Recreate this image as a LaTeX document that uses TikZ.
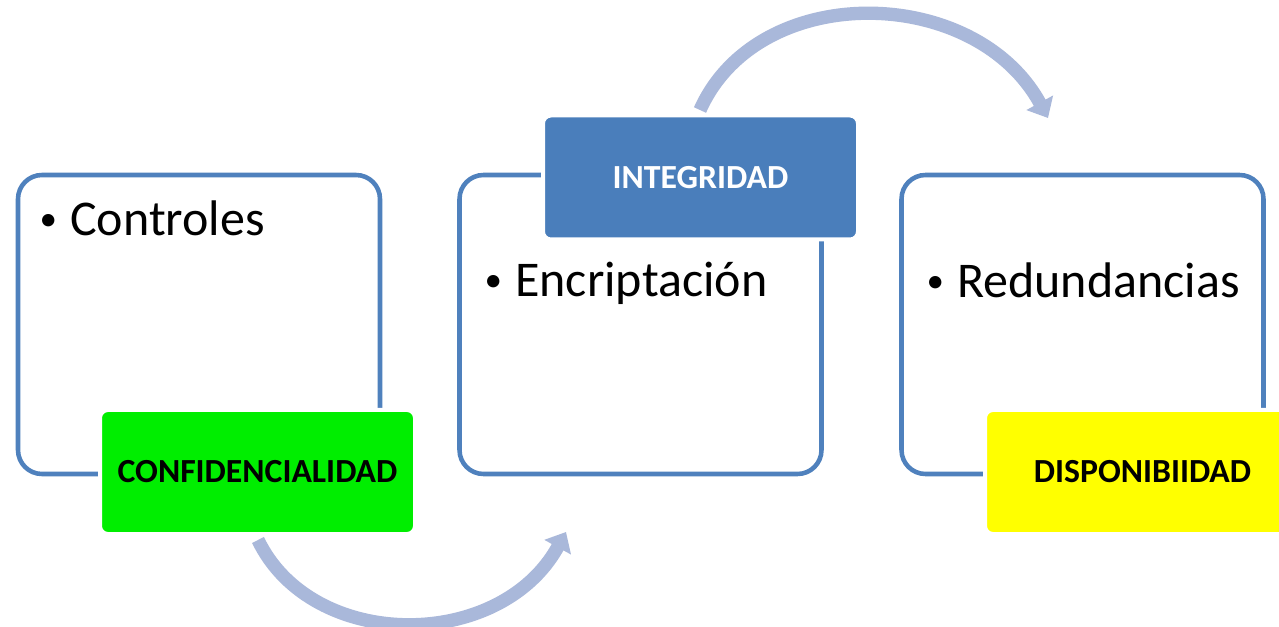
\documentclass[tikz,border=0pt]{standalone}
\usepackage{fontspec}
\usepackage{graphicx}
\setmainfont{Carlito}
\usetikzlibrary{arrows.meta}
\definecolor{frameblue}{HTML}{4F81BD}
\definecolor{labelblue}{HTML}{4A7EBB}
\definecolor{arrowblue}{HTML}{A9B8DA}
\definecolor{labelgreen}{HTML}{00EE00}
\definecolor{labelyellow}{HTML}{FFFF00}
\tikzset{
  framebox/.style={draw=frameblue, line width=3.4pt, rounded corners=18pt,
    minimum width=271.5pt, minimum height=224.25pt, inner sep=0pt},
  labelbox/.style={draw=white, line width=3pt, rounded corners=6pt,
    minimum width=236.25pt, minimum height=93pt, inner sep=0pt,
    font=\fontsize{25.3pt}{29pt}\selectfont\bfseries},
  bullettext/.style={anchor=base west, inner sep=0pt,
    font=\fontsize{37.5pt}{44pt}\selectfont},
  flowarrow/.style={draw=arrowblue, line width=10pt,
    -{Triangle[length=13pt,width=22pt]}},
}
\newcommand{\bul}{\llap{\makebox[33pt][c]{\raisebox{4pt}{\scalebox{0.7}{\textbullet}}}}}
\begin{document}
\begin{tikzpicture}[x=0.75pt,y=-0.75pt]
\clip (0,0) rectangle (1279,627);
\fill[white] (0,0) rectangle (1279,627);
% arrows
\coordinate (a1s) at (258,540);
\coordinate (a1e) at (566,532);
\coordinate (a2s) at (700,110);
\coordinate (a2e) at (1048,118);
\draw[flowarrow] (a1s) .. controls (312,652) and (500,652) .. (a1e);
\draw[flowarrow] (a2s) .. controls (758,-20) and (975,-16) .. (a2e);
% frames
\node[framebox] (f1) at (199,324.5) {};
\node[framebox] (f2) at (640.5,324.5) {};
\node[framebox] (f3) at (1082.5,324.5) {};
% texts
\node[bullettext] (t1) at (70,236) {\bul Controles};
\node[bullettext] (t2) at (515,297) {\bul Encriptación};
\node[bullettext] (t3) at (957,298) {\bul Redundancias};
% labels
\node[labelbox, fill=labelgreen, text=black] (l1) at (257.5,472) {CONFIDENCIALIDAD};
\node[labelbox, fill=labelblue, text=white] (l2) at (700.5,177.5) {INTEGRIDAD};
\node[labelbox, fill=labelyellow, text=black] (l3) at (1142.5,472) {DISPONIBIIDAD};
\end{tikzpicture}
\end{document}
